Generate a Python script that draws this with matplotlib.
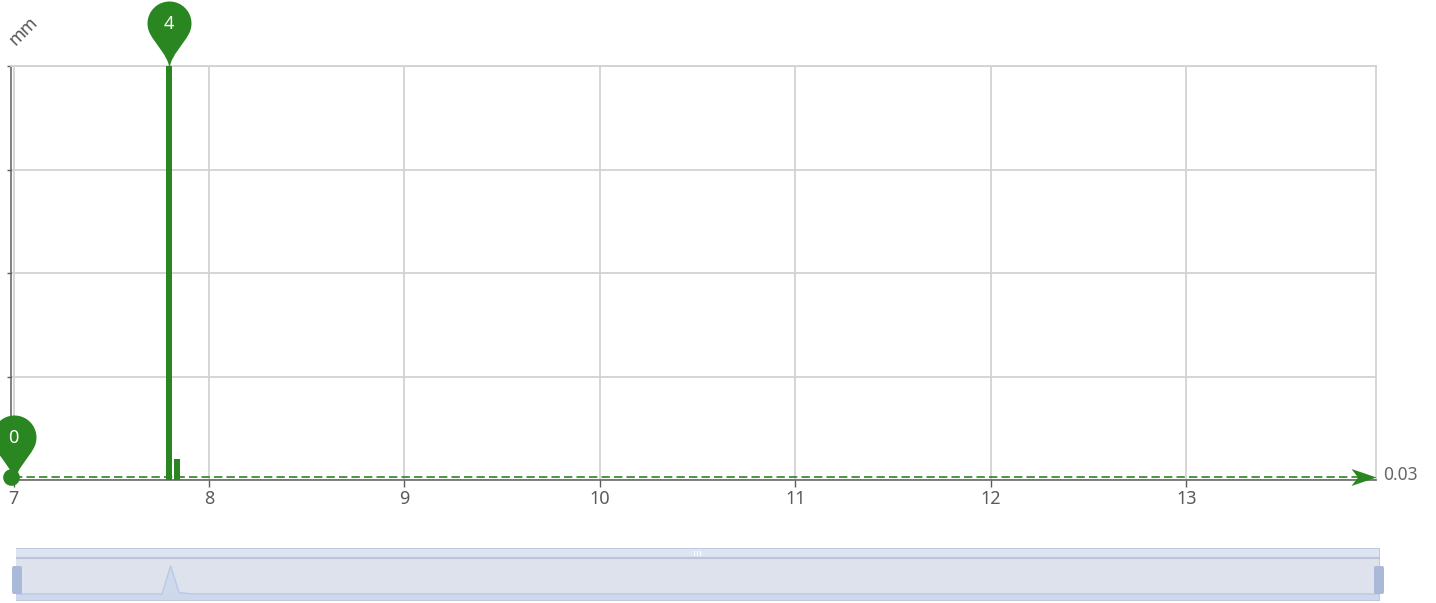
import matplotlib
matplotlib.use('Agg')
import matplotlib.pyplot as plt
from matplotlib.path import Path
from matplotlib.patches import FancyBboxPatch, Rectangle
from matplotlib.transforms import IdentityTransform

plt.rcParams['font.family'] = ['Noto Sans', 'DejaVu Sans']

# data
bar_x = [7.793, 7.834]
bar_values = [4, 0.2]
x_ticks = [7, 8, 9, 10, 11, 12, 13]
y_ticks = [0, 1, 2, 3, 4]
x_start = 7
x_end = 13.97
mean_value = 0.03
max_point = (7.793, 4)
min_point = (7.0, 0)
min_dot_x = 6.985
mini_x = [7.0, 7.746, 7.79, 7.833, 7.9, 13.97]
mini_y = [0, 0, 4, 0.2, 0, 0]

W, H = 1436, 603
GREEN = '#2a8620'
GRID = '#d2d2d2'
AXIS = '#5c5c5c'


def box(left, top, right, bottom):
    # pixel box of the reference -> figure fractions
    return [left / W, 1 - bottom / H, (right - left) / W, (bottom - top) / H]


def pin_marker():
    # round head on a pointed neck, tip at the origin, height 1
    u = 1 / 65
    r = 22 * u
    cy = 43 * u
    arc = Path.arc(-30, 210)
    verts = [(0.5 * u, 0), (1.5 * u, 10 * u), (14 * u, 22.5 * u), (arc.vertices[0][0] * r, cy + arc.vertices[0][1] * r)]
    codes = [Path.MOVETO, Path.CURVE4, Path.CURVE4, Path.CURVE4]
    for v, c in zip(arc.vertices[1:], arc.codes[1:]):
        verts.append((v[0] * r, cy + v[1] * r))
        codes.append(c)
    # left neck back to the tip
    verts += [(-14 * u, 22.5 * u), (-1.5 * u, 10 * u), (-0.5 * u, 0), (0.5 * u, 0)]
    codes += [Path.CURVE4, Path.CURVE4, Path.CURVE4, Path.LINETO]
    return Path(verts, codes)


fig = plt.figure(figsize=(W / 100, H / 100), dpi=100)
ax = fig.add_axes(box(11, 66, 1376, 480))
ax.set_xlim(6.987, x_end)
ax.set_ylim(0, 4)

# grid and axes
ax.set_xticks(x_ticks)
ax.set_yticks(y_ticks)
ax.set_yticklabels([])
ax.grid(True, color=GRID, linewidth=1.3)
ax.set_axisbelow(True)
ax.tick_params(axis='x', length=5, width=1, color=AXIS, labelcolor='#5a5a5a',
               labelsize=13, pad=2)
ax.tick_params(axis='y', length=3, width=1, color=AXIS)
for side in ['top', 'right']:
    ax.spines[side].set_color(GRID)
    ax.spines[side].set_linewidth(1.3)
for side in ['left', 'bottom']:
    ax.spines[side].set_color(AXIS)
    ax.spines[side].set_linewidth(1.1)

# bars
ax.bar(bar_x, bar_values, width=0.031, color=GREEN, zorder=3)

# mean line with arrow head
ax.plot([x_start, x_end], [mean_value, mean_value], color=GREEN, lw=1.2,
        linestyle=(0, (5, 2.5)), zorder=4, clip_on=False)
arrow = Path([(0, 0), (-1, 0.34), (-0.74, 0), (-1, -0.34), (0, 0)], closed=True)
ax.plot([x_end], [mean_value], marker=arrow, markersize=36, color=GREEN,
        markeredgewidth=0, zorder=5, clip_on=False)
ax.text(1.0055, 0.0125, '0.03', transform=ax.transAxes, color='#666666',
        fontsize=12.5, va='center', ha='left')

# pin markers at the max and min points
pin = pin_marker()
for px, py in [max_point, min_point]:
    ax.plot([px], [py], marker=pin, markersize=93.6, color=GREEN,
            markeredgewidth=0, zorder=6, clip_on=False)
    ax.annotate(str(py), (px, py), xytext=(0, 30), textcoords='offset points',
                color='white', fontsize=13, ha='center', va='center', zorder=7,
                annotation_clip=False)
ax.plot([min_dot_x], [mean_value], marker='o', markersize=12, color=GREEN,
        markeredgewidth=0, zorder=6, clip_on=False)

# axis name
fig.text(23 / W, 1 - 31 / H, 'mm', rotation=45, color='#555555', fontsize=12.5,
         ha='center', va='center')

# data zoom slider under the chart
slider = fig.add_axes(box(16, 548, 1380, 601))
slider.set_xlim(x_start, x_end)
slider.set_ylim(-1, 6.57)
slider.axis('off')
slider.axhspan(-1, 6.57, color='#dde2ec', lw=0)
slider.axhspan(5.14, 6.57, color='#dde4f3', lw=0)
slider.axhspan(-1, 0, color='#ced8ec', lw=0)
slider.axhline(5.14, color='#bcc4d8', lw=1.5)
slider.fill_between(mini_x, mini_y, 0, color='#cfd9ec', lw=0)
slider.plot(mini_x, mini_y, color='#bccae6', lw=1.1)
slider.plot([0, 1, 1, 0], [0, 0, 1, 1], transform=slider.transAxes, color='#bcc4d8', lw=1.2)

# slider handles and grip
for left in [12, 1374]:
    fig.add_artist(FancyBboxPatch(
        (left + 2, H - 592), 6, 24, boxstyle='round,pad=2,rounding_size=2',
        facecolor='#aab9d7', edgecolor='none', transform=IdentityTransform()))
for left in [693.5, 696.5, 699.5]:
    fig.add_artist(Rectangle((left, H - 555.5), 1.5, 5, facecolor='white',
                             edgecolor='none', transform=IdentityTransform()))

fig.savefig('out.png', dpi=100)
